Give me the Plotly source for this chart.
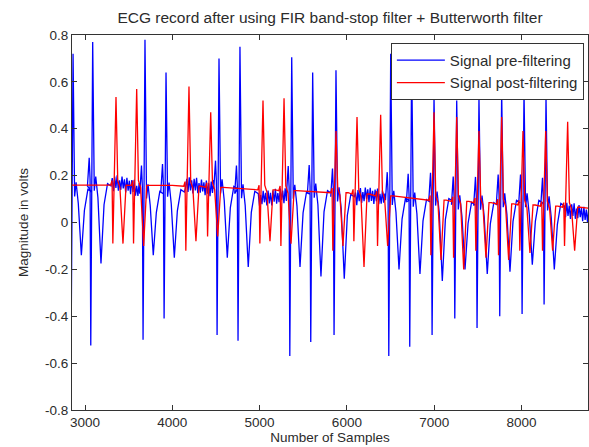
import numpy as np
import plotly.graph_objects as go

# ---------------- data ----------------
x_ticks = [3000, 4000, 5000, 6000, 7000, 8000]
y_ticks = [-0.8, -0.6, -0.4, -0.2, 0, 0.2, 0.4, 0.6, 0.8]
y_tick_labels = ["-0.8", "-0.6", "-0.4", "-0.2", "0", "0.2", "0.4", "0.6", "0.8"]

# Signal pre-filtering (blue): R-peak sample, R value, pre-dip (Q) value, post-dip (S/T) value
pre_beat_x = [2863, 3088, 3687, 3928, 4535, 4775, 5368, 5608, 5875, 6502, 6742,
              6998, 7258, 7513, 7773, 8029, 8281]
pre_r = [0.72, 0.77, 0.78, 0.64, 0.70, 0.75, 0.705, 0.64, 0.65, 0.72, 0.70,
         0.54, 0.52, 0.535, 0.56, 0.56, 0.535]
pre_q = [-0.50, -0.525, -0.50, -0.41, -0.48, -0.505, -0.57, -0.51, -0.48, -0.57, -0.53,
         -0.48, -0.41, -0.45, -0.40, -0.39, -0.35]
pre_s = [-0.14, -0.175, -0.14, -0.15, -0.15, -0.19, -0.19, -0.23, -0.24, -0.20, -0.22,
         -0.25, -0.20, -0.22, -0.21, -0.18, -0.20]
# blue baseline wander (sample, volts)
pre_base_x = [2780, 3000, 3300, 3500, 3800, 4100, 4350, 4650, 4950, 5200, 5500, 5750,
              6000, 6250, 6650, 6900, 7150, 7400, 7650, 7900, 8150, 8450, 8800]
pre_base_y = [0.12, 0.15, 0.17, 0.16, 0.10, 0.17, 0.15, 0.14, 0.10, 0.11, 0.13, 0.12,
              0.10, 0.12, 0.08, 0.10, 0.08, 0.07, 0.08, 0.09, 0.08, 0.06, 0.03]
# mains-noise excursions around the blue baseline (volts)
pre_noise = [0.03, -0.025, 0.02, -0.035, 0.028, -0.02, 0.035, -0.03, 0.015, -0.025,
             0.032, -0.018, 0.022, -0.033]

# Signal post-filtering (red)
post_beat_x = [3355, 3592, 4191, 4440, 5039, 5280, 5875, 6116, 6387, 6998, 7258,
               7513, 7773, 8017, 8277, 8529]
post_r = [0.535, 0.57, 0.58, 0.47, 0.52, 0.53, 0.39, 0.45, 0.46, 0.47, 0.45,
          0.39, 0.45, 0.39, 0.39, 0.43]
post_q = [-0.09, -0.09, -0.12, -0.06, -0.09, -0.10, -0.12, -0.08, -0.10, -0.14, -0.15,
          -0.12, -0.14, -0.12, -0.12, -0.10]
post_s = [-0.09, -0.10, -0.08, -0.06, -0.08, -0.09, -0.10, -0.19, -0.10, -0.16, -0.20,
          -0.15, -0.16, -0.13, -0.12, -0.12]
post_base_x = [2780, 4000, 5000, 6000, 7000, 8000, 8800]
post_base_y = [0.16, 0.158, 0.14, 0.125, 0.095, 0.075, 0.06]

x_range = [2851, 8762]
y_range = [-0.8, 0.8]

# ---------------- build polylines ----------------
def base(xk, yk, x):
    return float(np.interp(x, xk, yk))

pre_x, pre_y = [], []
cursor = pre_base_x[0]
k = 0
for bx, r, q, s in zip(pre_beat_x, pre_r, pre_q, pre_s):
    for xx in range(int(cursor), int(bx - 60), 14):
        pre_x.append(xx)
        pre_y.append(base(pre_base_x, pre_base_y, xx) + pre_noise[k % len(pre_noise)])
        k += 1
    b = base(pre_base_x, pre_base_y, bx)
    shape = [(-60, b), (-40, b + 0.12), (-30, b + 0.03), (-22, q), (0, r),
             (18, b - 0.02), (35, b + 0.04), (60, b - 0.05), (95, s),
             (130, b - 0.08), (170, b + 0.01), (210, b)]
    for dx, yy in shape:
        pre_x.append(bx + dx)
        pre_y.append(yy)
    cursor = bx + 224
for xx in range(int(cursor), pre_base_x[-1], 14):
    pre_x.append(xx)
    pre_y.append(base(pre_base_x, pre_base_y, xx) + pre_noise[k % len(pre_noise)])
    k += 1

post_x, post_y = [], []
cursor = post_base_x[0]
for bx, r, q, s in zip(post_beat_x, post_r, post_q, post_s):
    for kx in post_base_x:
        if cursor <= kx < bx - 60:
            post_x.append(kx)
            post_y.append(base(post_base_x, post_base_y, kx))
    b = base(post_base_x, post_base_y, bx)
    shape = [(-60, b), (-45, b + 0.02), (-36, q), (0, r), (20, b + 0.02),
             (45, b - 0.01), (80, s), (115, b), (140, b)]
    for dx, yy in shape:
        post_x.append(bx + dx)
        post_y.append(yy)
    cursor = bx + 140
for kx in post_base_x:
    if kx >= cursor:
        post_x.append(kx)
        post_y.append(base(post_base_x, post_base_y, kx))

# ---------------- figure ----------------
font_family = "Liberation Sans, Arial, sans-serif"
text_color = "#2b2b2b"

fig = go.Figure()
fig.add_trace(go.Scatter(x=pre_x, y=pre_y, mode="lines", name="Signal pre-filtering",
                         line=dict(color="#0000ff", width=1.3)))
fig.add_trace(go.Scatter(x=post_x, y=post_y, mode="lines", name="Signal post-filtering",
                         line=dict(color="#ff0000", width=1.3)))

fig.update_layout(
    width=589, height=447,
    margin=dict(l=72, r=1, t=35, b=37),
    paper_bgcolor="white", plot_bgcolor="white",
    font=dict(family=font_family, size=13.5, color=text_color),
    title=dict(text="ECG record after using FIR band-stop filter + Butterworth filter",
               x=0.5, xref="paper", xanchor="center",
               y=1 - 18 / 447, yref="container", yanchor="middle",
               font=dict(size=15.5, color=text_color)),
    showlegend=True,
    legend=dict(x=0.992, y=0.979, xanchor="right", yanchor="top",
                bgcolor="white", bordercolor="#333333", borderwidth=1,
                itemwidth=48,
                font=dict(size=15, color=text_color), tracegroupgap=0),
)
fig.update_xaxes(range=x_range, tickvals=x_ticks, ticktext=[str(v) for v in x_ticks],
                 ticks="inside", ticklen=5, tickcolor="#333333",
                 showline=True, linecolor="#333333", linewidth=1, mirror="ticks",
                 showgrid=False, zeroline=False,
                 title=dict(text="Number of Samples", standoff=3,
                            font=dict(size=13.5, color=text_color)),
                 tickfont=dict(size=13.5, color=text_color))
fig.update_yaxes(range=y_range, tickvals=y_ticks, ticktext=y_tick_labels,
                 ticks="inside", ticklen=5, tickcolor="#333333",
                 showline=True, linecolor="#333333", linewidth=1, mirror="ticks",
                 showgrid=False, zeroline=False,
                 title=dict(text="Magnitude in volts", standoff=13,
                            font=dict(size=13.5, color=text_color)),
                 tickfont=dict(size=13.5, color=text_color))

fig.write_html("out.html")
